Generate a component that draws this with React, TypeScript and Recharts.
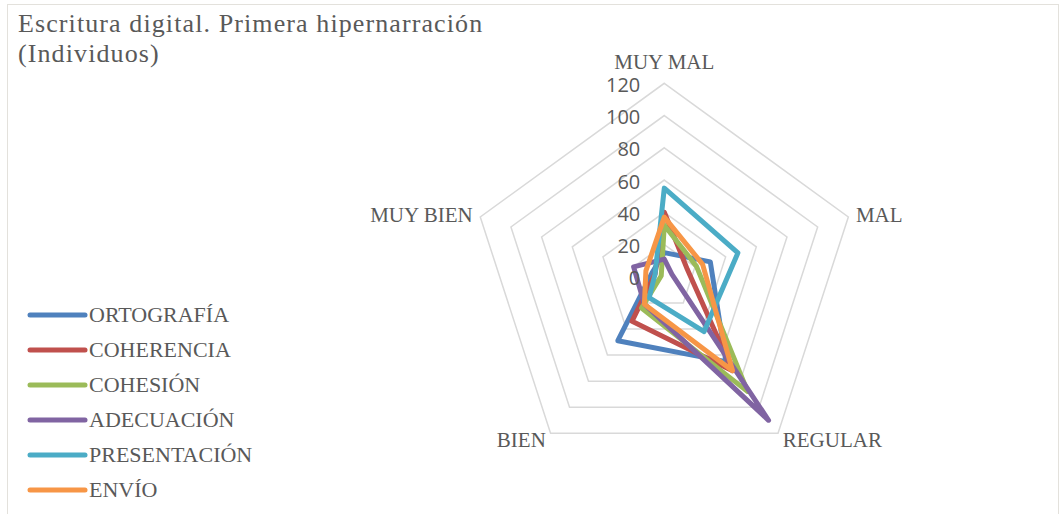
import React from 'react';
import { RadarChart, Radar, PolarGrid, PolarAngleAxis, PolarRadiusAxis, Legend } from 'recharts';

const categories = ['MUY MAL', 'MAL', 'REGULAR', 'BIEN', 'MUY BIEN'];

const ortografia = [15, 30, 65, 49, 8];
const coherencia = [40, 15, 72, 34, 6];
const cohesion = [32, 21, 88, 24, 2];
const adecuacion = [11, 5, 110, 21, 20];
const presentacion = [55, 48, 42, 16, 6];
const envio = [37, 25, 72, 21, 12];

const radiusTicks = [0, 20, 40, 60, 80, 100, 120];

const series = [
  { key: 'ORTOGRAFÍA', values: ortografia, color: '#4f81bd' },
  { key: 'COHERENCIA', values: coherencia, color: '#c0504d' },
  { key: 'COHESIÓN', values: cohesion, color: '#9bbb59' },
  { key: 'ADECUACIÓN', values: adecuacion, color: '#8064a2' },
  { key: 'PRESENTACIÓN', values: presentacion, color: '#4bacc6' },
  { key: 'ENVÍO', values: envio, color: '#f79646' },
];

const data = categories.map((cat, i) => {
  const row: Record<string, string | number> = { cat };
  series.forEach(s => { row[s.key] = s.values[i]; });
  return row;
});

const TEXT = '#595959';
const SERIF = '"Liberation Serif", serif';

const AngleTick = (props: any) => {
  const { x, y, payload, textAnchor } = props;
  const isTop = textAnchor === 'middle' && y < 200;
  return (
    <text
      x={x}
      y={isTop ? y - 13 : y}
      textAnchor={textAnchor}
      dominantBaseline="central"
      fill={TEXT}
      fontFamily={SERIF}
      fontSize={21}
    >
      {payload.value}
    </text>
  );
};

const RadiusTick = (props: any) => {
  const { x, y, payload } = props;
  return (
    <text x={x - 24} y={y + 1} textAnchor="end" dominantBaseline="central" fill={TEXT} fontFamily='"Open Sans", sans-serif' fontSize={20}>
      {payload.value}
    </text>
  );
};

// keep the legend in series order (recharts sorts it by name otherwise)
const renderLegend = (props: any) => {
  const order = series.map(s => s.key);
  const items = [...(props.payload || [])].sort((a: any, b: any) => order.indexOf(a.value) - order.indexOf(b.value));
  return (
    <div>
      {items.map((p: any) => (
        <div key={p.value} style={{ display: 'flex', alignItems: 'center', height: 35 }}>
          <svg width={62} height={10} style={{ display: 'block', flex: 'none' }}>
            <line x1={3} y1={5} x2={58} y2={5} stroke={p.color} strokeWidth={5} strokeLinecap="round" />
          </svg>
          <span style={{ fontFamily: SERIF, fontSize: 22, color: TEXT, lineHeight: '35px' }}>{p.value}</span>
        </div>
      ))}
    </div>
  );
};

export default function App() {
  return (
    <div style={{ position: 'absolute', left: 0, top: 0, width: 1062, height: 514, background: '#fff', overflow: 'hidden' }}>
      <div style={{ position: 'absolute', left: 7, top: 4, width: 1050, height: 530, border: '1px solid #e3e1dc' }} />
      <div style={{ position: 'absolute', left: 18, top: 9, fontFamily: SERIF, fontSize: 26, letterSpacing: 1.1, lineHeight: '30px', color: TEXT }}>
        Escritura digital. Primera hipernarración<br />(Individuos)
      </div>
      <RadarChart width={1062} height={514} data={data} cx={664.3} cy={276.8} outerRadius={193.5} margin={{ top: 0, right: 0, bottom: 0, left: 0 }}>
        <PolarGrid gridType="polygon" radialLines={false} stroke="#d9d9d9" strokeWidth={1.5} />
        <PolarAngleAxis dataKey="cat" tick={AngleTick} tickLine={false} axisLine={false} />
        <PolarRadiusAxis angle={90} domain={[0, 120]} ticks={radiusTicks} tick={RadiusTick} axisLine={false} tickLine={false} />
        {series.map(s => (
          <Radar
            key={s.key}
            name={s.key}
            dataKey={s.key}
            stroke={s.color}
            strokeWidth={5}
            strokeLinejoin="round"
            fill="none"
            fillOpacity={0}
            dot={false}
            isAnimationActive={false}
          />
        ))}
        <Legend
          content={renderLegend}
          layout="vertical"
          wrapperStyle={{ position: 'absolute', left: 27, top: 297, width: 280 }}
        />
      </RadarChart>
    </div>
  );
}
